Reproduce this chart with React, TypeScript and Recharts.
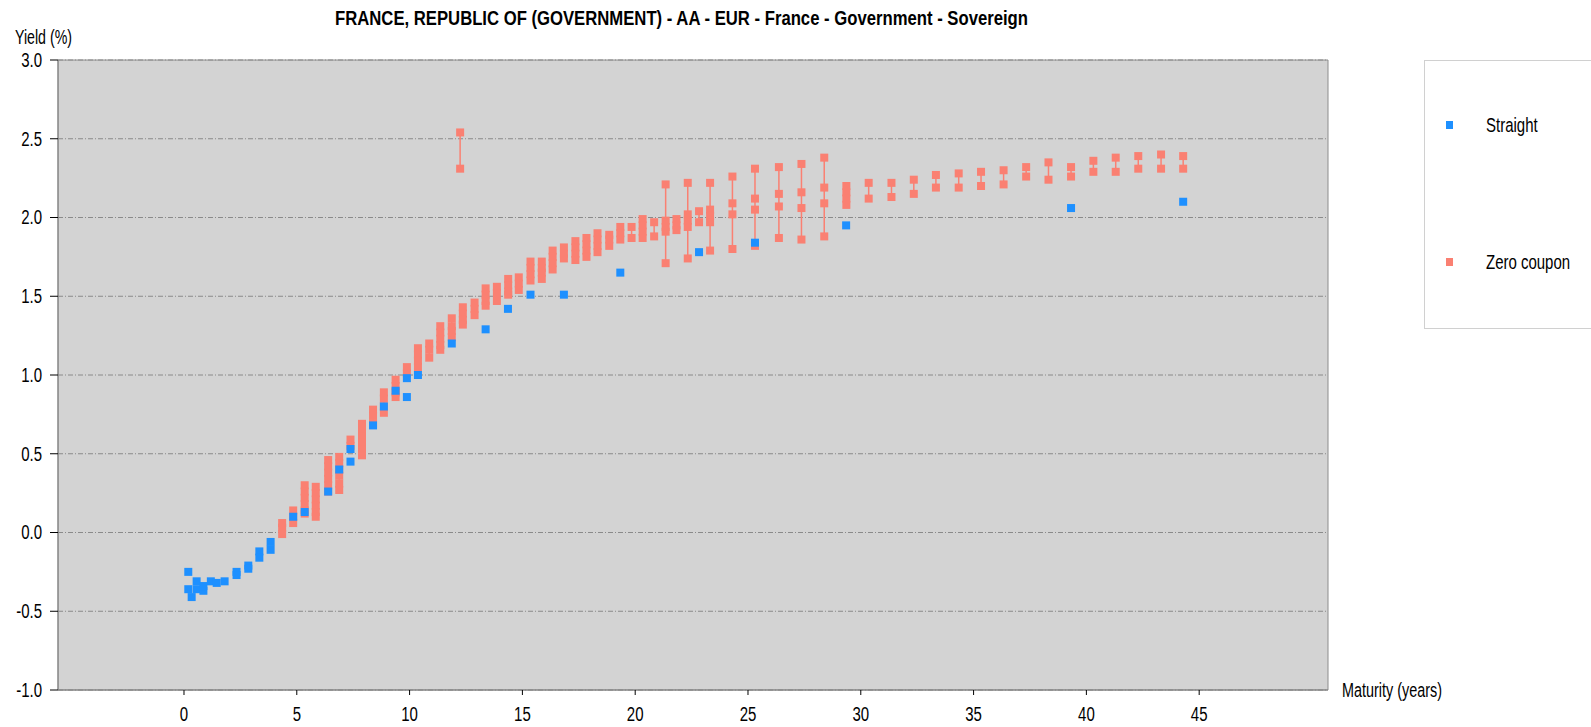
import React from "react";
import {
  ScatterChart, Scatter, XAxis, YAxis, CartesianGrid, ReferenceArea, Legend,
} from "recharts";

// straight bonds (blue)
const straightMaturity = [
  0.19, 0.19, 0.34, 0.56, 0.56, 0.86, 0.86, 1.19, 1.45, 1.8, 2.33, 2.33, 2.85, 2.85,
  3.34, 3.34, 3.84, 3.84, 4.84, 5.35, 6.39, 6.88, 7.38, 7.38, 8.38, 8.86, 9.38, 9.88,
  9.88, 10.37, 11.87, 13.37, 14.36, 15.36, 16.84, 19.34, 22.83, 25.31, 29.35, 39.32, 44.29,
];
const straightYield = [
  -0.25, -0.36, -0.41, -0.31, -0.36, -0.37, -0.34, -0.31, -0.32, -0.31, -0.25, -0.27, -0.21, -0.23,
  -0.12, -0.16, -0.06, -0.11, 0.10, 0.13, 0.26, 0.40, 0.53, 0.45, 0.68, 0.80, 0.90, 0.98,
  0.86, 1.00, 1.20, 1.29, 1.42, 1.51, 1.51, 1.65, 1.78, 1.84, 1.95, 2.06, 2.10,
];

// zero coupon (salmon), several yields per maturity
const zcMaturity = [
  4.35, 4.84, 5.35, 5.84, 6.39, 6.88, 7.38, 7.89, 8.38, 8.86, 9.38, 9.88, 10.37, 10.87,
  11.36, 11.87, 12.24, 12.36, 12.88, 13.37, 13.87, 14.37, 14.84, 15.36, 15.86, 16.34,
  16.84, 17.35, 17.84, 18.33, 18.85, 19.34, 19.84, 20.33, 20.84, 21.35, 21.83, 22.33,
  22.83, 23.32, 24.31, 25.31, 26.37, 27.37, 28.38, 29.36, 30.35, 31.36, 32.35, 33.33,
  34.34, 35.33, 36.33, 37.33, 38.32, 39.32, 40.31, 41.3, 42.3, 43.31, 44.29,
];
const zcYields = [
  [0.06, 0.03, -0.01], [0.14, 0.10, 0.06], [0.30, 0.26, 0.22, 0.18, 0.14, 0.12],
  [0.29, 0.25, 0.21, 0.17, 0.13, 0.10], [0.46, 0.42, 0.38, 0.34, 0.30, 0.26],
  [0.48, 0.44, 0.40, 0.36, 0.31, 0.27], [0.59, 0.55], [0.69, 0.65, 0.61, 0.57, 0.53, 0.49],
  [0.78, 0.74, 0.69], [0.89, 0.85, 0.80, 0.76], [0.97, 0.93, 0.89, 0.86], [1.05, 1.01],
  [1.17, 1.13, 1.09, 1.05], [1.20, 1.16, 1.11], [1.31, 1.27, 1.23, 1.19, 1.16],
  [1.36, 1.31, 1.28, 1.24], [2.54, 2.31], [1.43, 1.39, 1.35, 1.32], [1.46, 1.42, 1.38],
  [1.55, 1.51, 1.47, 1.44], [1.56, 1.52, 1.47], [1.61, 1.57, 1.53, 1.51], [1.62, 1.58, 1.54],
  [1.72, 1.68, 1.64, 1.60], [1.72, 1.68, 1.65, 1.61], [1.79, 1.75, 1.71, 1.67],
  [1.81, 1.77, 1.74], [1.85, 1.81, 1.77, 1.73], [1.87, 1.83, 1.79, 1.75],
  [1.90, 1.86, 1.82, 1.78], [1.89, 1.86, 1.82], [1.94, 1.90, 1.86], [1.94, 1.87],
  [1.99, 1.95, 1.91, 1.87], [1.97, 1.88], [2.21, 1.98, 1.94, 1.91, 1.71], [1.99, 1.95, 1.92],
  [2.22, 2.02, 1.98, 1.94, 1.74], [2.04, 1.97], [2.22, 2.05, 2.01, 1.97, 1.79],
  [2.26, 2.09, 2.02, 1.80], [2.31, 2.12, 2.05, 1.82], [2.32, 2.15, 2.07, 1.87],
  [2.34, 2.16, 2.06, 1.86], [2.38, 2.19, 2.09, 1.88], [2.20, 2.16, 2.12, 2.08],
  [2.22, 2.12], [2.22, 2.13], [2.24, 2.15], [2.27, 2.19], [2.28, 2.19], [2.29, 2.20],
  [2.30, 2.21], [2.32, 2.26], [2.35, 2.24], [2.32, 2.26], [2.36, 2.29], [2.38, 2.29],
  [2.39, 2.31], [2.40, 2.31], [2.39, 2.31],
];

const xTicks = [0, 5, 10, 15, 20, 25, 30, 35, 40, 45];
const yTicks = [-1, -0.5, 0, 0.5, 1, 1.5, 2, 2.5, 3];

const title = "FRANCE, REPUBLIC OF (GOVERNMENT) - AA - EUR - France - Government - Sovereign";
const seriesNames = ["Straight", "Zero coupon"];

const BLUE = "#1e90ff";
const SALMON = "#fa8072";
const FONT = "'Liberation Sans', Arial, sans-serif";
const LEGEND_W = 167;
const MS = 8; // marker size

const straightData = straightMaturity.map((m, i) => ({ x: m, y: straightYield[i] }));
const zcGroups = zcMaturity.map((m, i) => zcYields[i].map((v) => ({ x: m, y: v })));

const square = (color: string) => (props: any) => (
  <rect x={props.cx - MS / 2} y={props.cy - MS / 2} width={MS} height={MS} fill={color} />
);

const YTick = ({ x, y, payload }: any) => (
  <text transform={`translate(${x},${y}) scale(1,1.3)`} textAnchor="end" dy="0.35em"
    fontSize={15} fontFamily={FONT} fill="#000">
    {Number(payload.value).toFixed(1)}
  </text>
);

const XTick = ({ x, y, payload }: any) => (
  <text transform={`translate(${x},${y}) scale(1,1.3)`} textAnchor="middle" dy="0.71em"
    fontSize={15} fontFamily={FONT} fill="#000">
    {payload.value}
  </text>
);

const LegendBox = () => (
  <svg width={LEGEND_W} height={270} style={{ display: "block" }}>
    <rect x={0.5} y={0.5} width={180} height={268} fill="#fff" stroke="#d0d0d0" />
    {seriesNames.map((name, i) => {
      const cy = i === 0 ? 65 : 202;
      const c = i === 0 ? BLUE : SALMON;
      return (
        <g key={name}>
          <rect x={22} y={cy - 4} width={7} height={8} fill={c} />
          <text transform={`translate(62,${cy}) scale(1,1.3)`} dy="0.35em" fontSize={15}
            fontFamily={FONT} fill="#000">{name}</text>
        </g>
      );
    })}
  </svg>
);

export default function App() {
  return (
    <div style={{ position: "absolute", left: 0, top: 0, width: 1591, height: 727 }}>
      <ScatterChart width={1591} height={727}
        margin={{ top: 60, right: 263 - LEGEND_W, left: 8, bottom: 0 }}>
        <CartesianGrid horizontal vertical={false} fill="#d3d3d3" stroke="#8a8a8a"
          strokeDasharray="5 2 1 2" />
        <XAxis type="number" dataKey="x" domain={[-5.585, 50.71]} ticks={xTicks}
          allowDataOverflow height={37} tickSize={5} tickMargin={12}
          axisLine={{ stroke: "#808080" }} tickLine={{ stroke: "#000" }} tick={<XTick />} />
        <YAxis type="number" dataKey="y" domain={[-1, 3]} ticks={yTicks} allowDataOverflow
          width={50} tickSize={8} tickMargin={8}
          axisLine={{ stroke: "#808080" }} tickLine={{ stroke: "#000" }} tick={<YTick />} />
        <ReferenceArea x1={-5.585} x2={50.71} y1={-1} y2={3} fill="none" stroke="#8c8c8c"
          ifOverflow="visible" />
        {zcGroups.map((g, i) => (
          <Scatter key={"zc" + i} name="Zero coupon" data={g} fill={SALMON}
            line={{ stroke: SALMON, strokeWidth: 1.5 }} shape={square(SALMON)}
            isAnimationActive={false} />
        ))}
        <Scatter name="Straight" data={straightData} fill={BLUE} shape={square(BLUE)}
          isAnimationActive={false} />
        <Legend content={<LegendBox />} layout="vertical" align="right" verticalAlign="middle"
          width={LEGEND_W}
          wrapperStyle={{ left: 1424, top: 60, width: LEGEND_W, height: 270, bottom: "auto", right: "auto" }} />
      </ScatterChart>
      <svg width={1591} height={727}
        style={{ position: "absolute", left: 0, top: 0, pointerEvents: "none" }}>
        <text transform="translate(335,25) scale(1,1.35)" fontSize={15} fontWeight="bold"
          fontFamily={FONT} textLength={693} lengthAdjust="spacingAndGlyphs">{title}</text>
        <text transform="translate(15,44) scale(1,1.3)" fontSize={15} fontFamily={FONT}
          textLength={57} lengthAdjust="spacingAndGlyphs">Yield (%)</text>
        <text transform="translate(1342,697) scale(1,1.3)" fontSize={15} fontFamily={FONT}
          textLength={100} lengthAdjust="spacingAndGlyphs">Maturity (years)</text>
      </svg>
    </div>
  );
}
